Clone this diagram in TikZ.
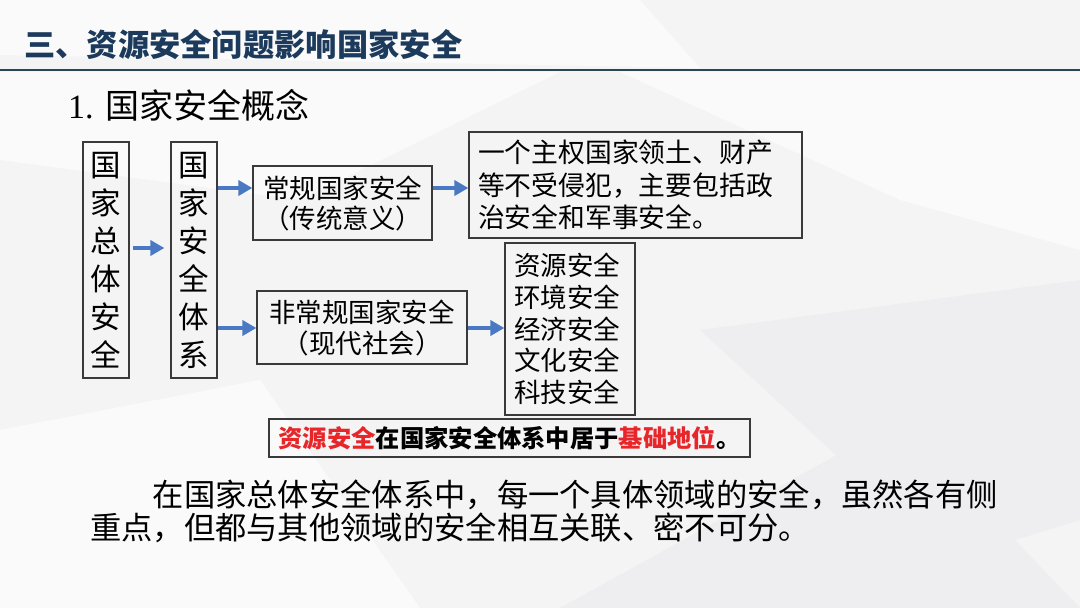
\documentclass[tikz,border=0pt]{standalone}
\usepackage{fontspec}
\usetikzlibrary{arrows.meta,calc}
\newfontfamily\cjk{Noto Sans CJK SC}
\newfontfamily\cjkblack{Noto Sans CJK SC Black}
\newfontfamily\song{Noto Sans CJK SC}
\newfontfamily\numserif{Liberation Serif}
\definecolor{titleblue}{HTML}{1B3A5C}
\definecolor{hlinec}{HTML}{2B4553}
\definecolor{boxline}{HTML}{3A3A3A}
\definecolor{arrowblue}{HTML}{4A78C2}
\definecolor{redtext}{HTML}{E8262A}
\definecolor{bgbase}{HTML}{F4F4F5}
\definecolor{facetL}{HTML}{FAFAFA}
\definecolor{facetD}{HTML}{EEEEF0}
\tikzset{
  box/.style={draw=boxline, line width=1.2pt, inner sep=0pt, text=black},
  arr/.style={draw=arrowblue, line width=4pt, -{Triangle[length=14pt,width=15pt]}},
}
\begin{document}
\begin{tikzpicture}[x=1pt,y=-1pt]
\useasboundingbox (0,0) rectangle (1080,608);
% background
\fill[bgbase] (0,0) rectangle (1080,608);
\fill[facetL] (0,0) -- (640,0) -- (700,68) -- (0,55) -- cycle;
\fill[facetL] (0,72) -- (560,72) -- (300,200) -- (0,160) -- cycle;
\fill[facetL] (620,72) -- (1080,72) -- (1080,250) -- (900,200) -- cycle;
\fill[facetD] (700,330) -- (1080,280) -- (1080,520) -- (950,560) -- cycle;
\fill[facetL] (0,430) -- (260,380) -- (420,608) -- (0,608) -- cycle;
\fill[facetD] (560,608) -- (900,420) -- (1080,608) -- cycle;
% header
\node[anchor=west, inner sep=0pt, text=titleblue, font=\cjkblack\fontsize{31.3}{31.3}\selectfont] (title) at (24,45) {三、资源安全问题影响国家安全};
\draw[hlinec, line width=2pt] (0,70) -- (1080,70);
\node[anchor=west, inner sep=0pt, font=\song\fontsize{34}{34}\selectfont] (sub) at (68,105) {{\numserif 1.}\hspace{12pt}国家安全概念};
% boxes
\node[box, minimum width=46pt, minimum height=236pt, align=center, font=\cjk\fontsize{30.5}{38}\selectfont] (b1) at (106,260) {国\\家\\总\\体\\安\\全};
\node[box, minimum width=46pt, minimum height=236pt, align=center, font=\cjk\fontsize{30.5}{38}\selectfont] (b2) at (194,260) {国\\家\\安\\全\\体\\系};
\node[box, minimum width=179pt, minimum height=74pt, align=center, font=\cjk\fontsize{26.5}{30}\selectfont] (b3) at (342.5,203) {常规国家安全\\（传统意义）};
\node[box, minimum width=210pt, minimum height=73pt, align=center, font=\cjk\fontsize{26.5}{31}\selectfont] (b4) at (362,327.5) {非常规国家安全\\（现代社会）};
\node[box, text width=315pt, inner xsep=9pt, minimum height=106pt, align=left, font=\cjk\fontsize{26.8}{32.5}\selectfont] (b5) at (635.5,185) {一个主权国家领土、财产\\等不受侵犯，主要包括政\\治安全和军事安全。};
\node[box, text width=112pt, inner xsep=9pt, minimum height=172pt, align=left, font=\cjk\fontsize{26.5}{31.75}\selectfont] (b6) at (570,329) {资源安全\\环境安全\\经济安全\\文化安全\\科技安全};
\node[box, minimum width=481pt, minimum height=38pt, align=center, font=\cjk\bfseries\fontsize{24.3}{26}\selectfont] (b7) at (509.5,438) {{\color{redtext}资源安全}在国家安全体系中居于{\color{redtext}基础地位}。};
% arrows
\coordinate (yA) at (0,248);
\coordinate (yB) at (0,188);
\coordinate (yC) at (0,328);
\draw[arr] ([xshift=3pt]b1.east |- yA) -- ([xshift=-6pt]b2.west |- yA);
\draw[arr] (b2.east |- yB) -- (b3.west |- yB);
\draw[arr] (b3.east |- yB) -- (b5.west |- yB);
\draw[arr] (b2.east |- yC) -- (b4.west |- yC);
\draw[arr] (b4.east |- yC) -- (b6.west |- yC);
% paragraph
\node[anchor=west, inner sep=0pt, align=left, font=\song\fontsize{31.3}{33}\selectfont] (para) at (90,511) {\hspace*{62.6pt}在国家总体安全体系中，每一个具体领域的安全，虽然各有侧\\重点，但都与其他领域的安全相互关联、密不可分。};
\end{tikzpicture}
\end{document}
